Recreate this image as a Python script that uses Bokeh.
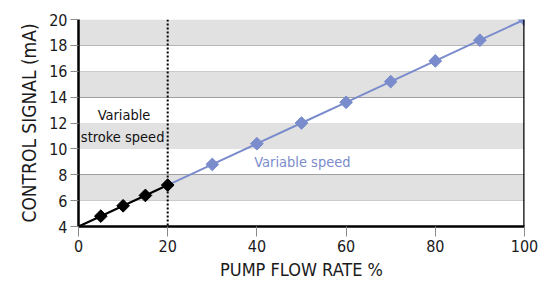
import math
from bokeh.plotting import figure
from bokeh.models import Range1d, BoxAnnotation, Span, Label, FixedTicker
from bokeh.embed import file_html
from bokeh.resources import INLINE

# data
stroke_x = [0, 5, 10, 15, 20]
stroke_y = [4, 4.8, 5.6, 6.4, 7.2]
speed_x = [20, 30, 40, 50, 60, 70, 80, 90, 100]
speed_y = [7.2, 8.8, 10.4, 12.0, 13.6, 15.2, 16.8, 18.4, 20.0]
x_ticks = [0, 20, 40, 60, 80, 100]
y_ticks = [4, 6, 8, 10, 12, 14, 16, 18, 20]
bands = [(6, 8), (10, 12), (14, 16), (18, 20)]
divider_x = 20

FONT = "'DejaVu Sans Condensed', 'Liberation Sans Narrow', 'Roboto Condensed', Roboto, sans-serif"
BLUE = "#7a8ccc"

p = figure(width=538, height=284, output_backend="svg", toolbar_location=None,
           x_range=Range1d(0, 100), y_range=Range1d(4, 20),
           min_border_left=78, min_border_right=14, min_border_top=19, min_border_bottom=58)
p.outline_line_color = None
p.background_fill_color = "white"

for lo, hi in bands:
    p.add_layout(BoxAnnotation(bottom=lo, top=hi, fill_color="#e1e1e1", fill_alpha=1.0,
                               line_color=None, level="underlay"))

p.xgrid.grid_line_color = None
p.ygrid.grid_line_color = "#8a8a8a"
p.ygrid.grid_line_width = 1
p.ygrid.ticker = FixedTicker(ticks=y_ticks)

p.xaxis.ticker = FixedTicker(ticks=x_ticks)
p.yaxis.ticker = FixedTicker(ticks=y_ticks)
for ax in (p.xaxis[0], p.yaxis[0]):
    ax.axis_line_color = "black"
    ax.axis_line_width = 2.5
    ax.major_tick_line_color = "#8a8a8a"
    ax.major_tick_line_width = 1
    ax.major_tick_in = 0
    ax.minor_tick_line_color = None
    ax.major_label_text_font = FONT
    ax.major_label_text_font_size = "16px"
    ax.major_label_text_color = "#1a1a1a"
    ax.axis_label_text_font = FONT
    ax.axis_label_text_font_style = "normal"
    ax.axis_label_text_color = "#1a1a1a"
p.xaxis.axis_label_text_font_size = "18px"
p.yaxis.axis_label_text_font_size = "19px"
p.xaxis.major_tick_out = 10
p.yaxis.major_tick_out = 8
p.xaxis.major_label_standoff = 3
p.yaxis.major_label_standoff = 3
p.xaxis.axis_label = "PUMP FLOW RATE %"
p.yaxis.axis_label = "CONTROL SIGNAL (mA)"
p.xaxis.axis_label_standoff = 4
p.yaxis.axis_label_standoff = 6

p.add_layout(Span(location=100, dimension="height", line_color="black", line_width=2.5))
p.add_layout(Span(location=divider_x, dimension="height", line_color="black",
                  line_width=2, line_dash="2 2"))

p.line(speed_x, speed_y, line_color=BLUE, line_width=2)
p.scatter(speed_x[1:], speed_y[1:], marker="square", angle=math.pi / 4, size=9, color=BLUE)
p.line(stroke_x, stroke_y, line_color="black", line_width=2.2)
p.scatter(stroke_x[1:], stroke_y[1:], marker="square", angle=math.pi / 4, size=9, color="black")

p.add_layout(Label(x=10.2, y=12.6, text="Variable", text_font=FONT, text_font_size="14.5px",
                   text_align="center", text_baseline="middle", text_color="#111111"))
p.add_layout(Label(x=9.9, y=10.95, text="stroke speed", text_font=FONT, text_font_size="14.5px",
                   text_align="center", text_baseline="middle", text_color="#111111"))
p.add_layout(Label(x=50.2, y=9.0, text="Variable speed", text_font=FONT, text_font_size="14.5px",
                   text_align="center", text_baseline="middle", text_color=BLUE))

open("out.html", "w").write(file_html(p, INLINE))
